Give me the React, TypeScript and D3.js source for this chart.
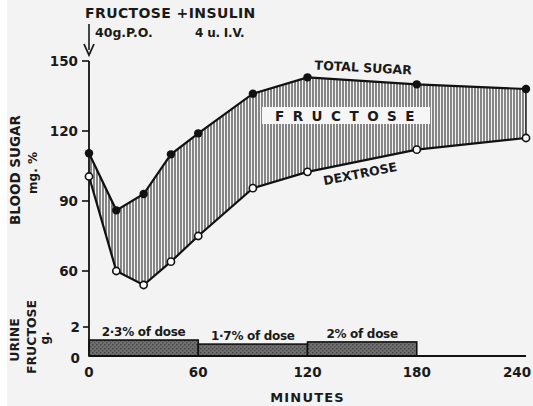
import React from "react";
import * as d3 from "d3";

// minutes after dose
const times = [0, 15, 30, 45, 60, 90, 120, 180, 240];
// blood sugar, mg %
const totalSugar = [110.5, 86, 93, 110, 119, 136, 143, 140, 138];
const dextrose = [100.5, 60, 54, 64, 75, 95.5, 102.5, 112, 117];

// urine fructose, g per collection period
const urineStart = [0, 60, 120];
const urineEnd = [60, 120, 180];
const urineGrams = [1.1, 0.82, 0.97];
const urineLabels = ["2·3% of dose", "1·7% of dose", "2% of dose"];

const sugarTicks = [150, 120, 90, 60];
const urineTicks = [2, 0];
const minuteTicks = [0, 60, 120, 180, 240];

const FONT = "'DejaVu Sans', sans-serif";

export default function App() {
  const width = 533;
  const height = 406;

  const x = d3.scaleLinear().domain([0, 240]).range([89, 526]);
  const y = d3.scaleLinear().domain([60, 150]).range([271, 61]);
  const yu = d3.scaleLinear().domain([0, 2]).range([356, 327]);

  const pts = times.map((t, i) => ({ t, tot: totalSugar[i], dex: dextrose[i] }));

  const band = d3
    .area<any>()
    .x((d) => x(d.t))
    .y0((d) => y(d.dex))
    .y1((d) => y(d.tot));
  const lineTot = d3.line<any>().x((d) => x(d.t)).y((d) => y(d.tot));
  const lineDex = d3.line<any>().x((d) => x(d.t)).y((d) => y(d.dex));

  const txt = {
    fontFamily: FONT,
    fontWeight: 700,
    fill: "#1a1a1a",
  } as const;

  return (
    <svg
      width={width}
      height={height}
      style={{ position: "absolute", left: 0, top: 0 }}
    >
      <defs>
        <pattern id="hatch" patternUnits="userSpaceOnUse" width={3} height={10}>
          <rect width={3} height={10} fill="#f4f4f4" />
          <line x1={1} y1={0} x2={1} y2={10} stroke="#2a2a2a" strokeWidth={1.1} />
        </pattern>
        <pattern id="stipple" patternUnits="userSpaceOnUse" width={4} height={4}>
          <rect width={4} height={4} fill="#707070" />
          <rect x={0} y={0} width={1.5} height={1.5} fill="#444" />
          <rect x={2} y={2} width={1.5} height={1.5} fill="#4e4e4e" />
        </pattern>
      </defs>

      <rect x={0} y={0} width={width} height={height} fill="#ffffff" />
      <rect x={7} y={0} width={width - 7} height={height} fill="#f3f3f3" />

      {/* annotation at top */}
      <text x={85} y={18} fontSize={14} {...txt} letterSpacing={0.4}>FRUCTOSE +INSULIN</text>
      <text x={95} y={37} fontSize={12.5} {...txt}>40g.P.O.</text>
      <text x={195} y={37} fontSize={12} {...txt} letterSpacing={-0.2}>4 u. I.V.</text>
      <line x1={89} y1={24} x2={89} y2={50} stroke="#1a1a1a" strokeWidth={1.6} />
      <path d="M84,44 L89,55 L94,44" fill="none" stroke="#1a1a1a" strokeWidth={1.8} />

      {/* shaded fructose band */}
      <path d={band(pts) || ""} fill="url(#hatch)" stroke="none" />
      <line x1={x(240)} x2={x(240)} y1={y(totalSugar[8])} y2={y(dextrose[8])} stroke="#1a1a1a" strokeWidth={1.4} />

      <path d={lineTot(pts) || ""} fill="none" stroke="#111" strokeWidth={2.2} />
      <path d={lineDex(pts) || ""} fill="none" stroke="#111" strokeWidth={2.2} />

      {/* urine bars */}
      {urineGrams.map((g, i) => (
        <g key={i}>
          <rect
            x={x(urineStart[i])}
            y={yu(g)}
            width={x(urineEnd[i]) - x(urineStart[i])}
            height={yu(0) - yu(g)}
            fill="url(#stipple)"
            stroke="#111"
            strokeWidth={1.6}
          />
          <text
            x={(x(urineStart[i]) + x(urineEnd[i])) / 2}
            y={yu(g) - 4}
            textAnchor="middle"
            fontSize={12}
            {...txt}
            letterSpacing={-0.3}
          >
            {urineLabels[i]}
          </text>
        </g>
      ))}

      {/* axes */}
      <line x1={89} x2={89} y1={y(150)} y2={yu(0)} stroke="#111" strokeWidth={1.8} />
      <line x1={89} x2={x(240)} y1={yu(0)} y2={yu(0)} stroke="#111" strokeWidth={1.8} />
      {sugarTicks.map((v) => (
        <g key={v}>
          <line x1={82} x2={89} y1={y(v)} y2={y(v)} stroke="#111" strokeWidth={1.6} />
          <text x={78} y={y(v)} dy="0.36em" textAnchor="end" fontSize={13.5} {...txt}>
            {v}
          </text>
        </g>
      ))}
      {urineTicks.map((v) => (
        <g key={"u" + v}>
          {v > 0 && (
            <line x1={83} x2={89} y1={yu(v)} y2={yu(v)} stroke="#111" strokeWidth={1.6} />
          )}
          <text x={80} y={yu(v) + (v === 0 ? 2 : 0)} dy="0.36em" textAnchor="end" fontSize={13.5} {...txt}>
            {v}
          </text>
        </g>
      ))}
      {minuteTicks.map((v) => (
        <text
          key={"m" + v}
          x={v === 240 ? x(v) - 9 : x(v)}
          y={372}
          dy="0.36em"
          textAnchor="middle"
          fontSize={13.5}
          {...txt}
        >
          {v}
        </text>
      ))}
      <text x={x(120)} y={397} dy="0.36em" textAnchor="middle" fontSize={13} {...txt} letterSpacing={1.2}>
        MINUTES
      </text>

      {/* axis titles */}
      <text transform="translate(20,170) rotate(-90)" textAnchor="middle" fontSize={13.5} {...txt}>
        BLOOD  SUGAR
      </text>
      <text transform="translate(37,173) rotate(-90)" textAnchor="middle" fontSize={12} {...txt}>
        mg. %
      </text>
      <text transform="translate(19,340) rotate(-90)" textAnchor="middle" fontSize={12.5} {...txt}>
        URINE
      </text>
      <text transform="translate(36,337) rotate(-90)" textAnchor="middle" fontSize={12.5} {...txt}>
        FRUCTOSE
      </text>
      <text transform="translate(49,338) rotate(-90)" textAnchor="middle" fontSize={12} {...txt}>
        g.
      </text>

      {/* series labels */}
      <text transform="translate(363,72) rotate(3)" textAnchor="middle" fontSize={12.5} {...txt}>
        TOTAL SUGAR
      </text>
      <rect x={262} y={107} width={168} height={17} fill="#f6f6f6" />
      <text x={349} y={116} dy="0.36em" textAnchor="middle" fontSize={13.5} {...txt} letterSpacing={8.5}>
        FRUCTOSE
      </text>
      <text transform="translate(361,178) rotate(-11)" textAnchor="middle" fontSize={12.5} {...txt}>
        DEXTROSE
      </text>

      {/* markers */}
      {pts.map((d, i) => (
        <g key={"p" + i}>
          <circle cx={x(d.t)} cy={y(d.tot)} r={4.2} fill="#111" />
          <circle cx={x(d.t)} cy={y(d.dex)} r={3.6} fill="#fff" stroke="#111" strokeWidth={1.6} />
        </g>
      ))}
    </svg>
  );
}
